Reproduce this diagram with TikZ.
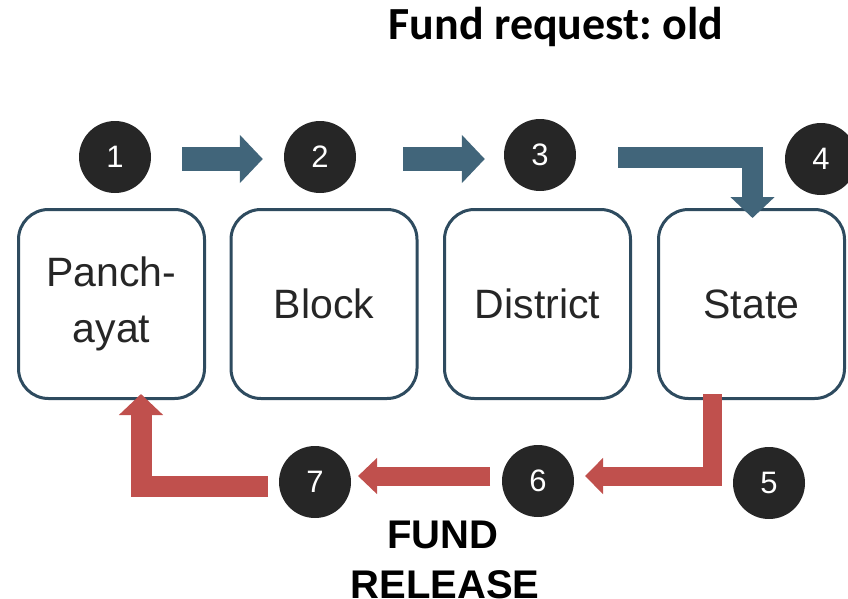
\documentclass[tikz,border=0pt]{standalone}
\usepackage{fontspec}
\setmainfont{Liberation Sans}
\newfontfamily\titlefont{Carlito}
\usetikzlibrary{arrows.meta}
\definecolor{boxline}{HTML}{2E4B5F}
\definecolor{flowblue}{HTML}{41657A}
\definecolor{flowred}{HTML}{C0504D}
\definecolor{disc}{HTML}{262626}
\frenchspacing
\begin{document}
\begin{tikzpicture}[x=1pt,y=-1pt,
  level/.style={draw=boxline, line width=3pt, fill=white, rounded corners=30pt,
    minimum width=186pt, minimum height=189pt, inner sep=0pt,
    font=\fontsize{41}{56}\selectfont, text=disc, align=center},
  badge/.style={circle, fill=disc, minimum size=72pt, inner sep=0pt,
    text=white, font=\fontsize{31}{31}\selectfont},
  upflow/.style={draw=flowblue, line width=#1, line cap=butt, line join=miter},
  downflow/.style={draw=flowred, line width=#1, line cap=butt, line join=miter}]
\useasboundingbox (0,0) rectangle (848,598);

% title
\node[anchor=base, font=\titlefont\bfseries\fontsize{46}{46}\selectfont] (title) at (556,39) {Fund request: old};

% administrative levels
\node[level] (panchayat) at (111.5,304) {Panch-\\ayat};
\node[level] (block) at (324,304) {Block};
\node[level] (district) at (537.5,304) {District};
\node[level] (state) at (751.5,304) {State};

% numbered steps
\node[badge] (s1) at (115,157) {1};
\node[badge] (s2) at (320,157) {2};
\node[badge] (s3) at (540,155) {3};
\node[badge] (s4) at (821,159) {4};
\node[badge] (s5) at (769,483) {5};
\node[badge] (s6) at (538,481) {6};
\node[badge] (s7) at (315,482) {7};

% request path (upwards)
\coordinate (r1a) at ([xshift=31pt]s1.east |- 0,159);
\coordinate (r1b) at ([xshift=-21pt]s2.west |- 0,159);
\draw[upflow=24pt, -{Triangle[length=23pt,width=47pt]}] (r1a) -- (r1b);
\coordinate (r2a) at ([xshift=47pt]s2.east |- 0,159);
\coordinate (r2b) at ([xshift=-19pt]s3.west |- 0,159);
\draw[upflow=24pt, -{Triangle[length=23pt,width=47pt]}] (r2a) -- (r2b);
\coordinate (r3a) at (618,157.5);
\coordinate (r3b) at (752.5,157.5);
\coordinate (r3c) at ([yshift=-10pt]state.north -| r3b);
\draw[upflow=21pt, -{Triangle[length=21pt,width=43pt]}] (r3a) -- (r3b) -- (r3c);

% release path (downwards)
\coordinate (d5a) at ([yshift=6pt]state.south -| 712,0);
\coordinate (d5b) at (712,476);
\coordinate (d5c) at (585,476);
\draw[downflow=19pt, -{Triangle[length=18pt,width=35pt]}] (d5a) -- (d5b) -- (d5c);
\coordinate (d6a) at (490,476);
\coordinate (d6b) at (358,476);
\draw[downflow=19pt, -{Triangle[length=19pt,width=35pt]}] (d6a) -- (d6b);
\coordinate (d7a) at (268,486);
\coordinate (d7b) at (141,486);
\coordinate (d7c) at ([yshift=6pt]panchayat.south -| d7b);
\draw[downflow=21pt, -{Triangle[length=21pt,width=43pt]}] (d7a) -- (d7b) -- (d7c);

% caption
\node[anchor=base, font=\bfseries\fontsize{40}{50}\selectfont] (release) at (443,548) {FUND};
\node[anchor=base, font=\bfseries\fontsize{40}{50}\selectfont] (release2) at (445,598) {RELEASE};
\end{tikzpicture}
\end{document}
